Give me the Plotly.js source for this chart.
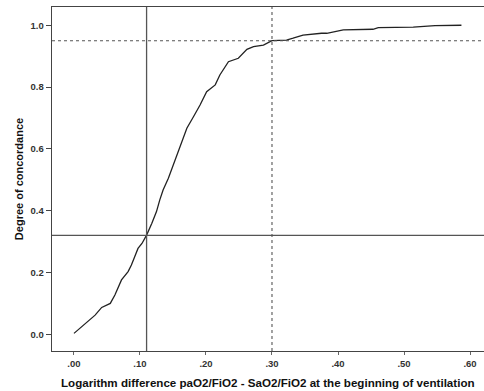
<!DOCTYPE html>
<html>
<head>
<meta charset="utf-8">
<script src="https://cdn.plot.ly/plotly-3.0.1.min.js"></script>
<style>html,body{margin:0;padding:0;background:#fff;}#chart{width:484px;height:391px;}</style>
</head>
<body>
<div id="chart"></div>
<script>
// Curve: logarithm difference vs degree of concordance
const logDiff = [0.000, 0.009, 0.020, 0.032, 0.042, 0.055, 0.062, 0.067, 0.072, 0.082,
                 0.087, 0.092, 0.097, 0.103, 0.110, 0.118, 0.125, 0.130, 0.135, 0.143,
                 0.153, 0.163, 0.171, 0.181, 0.191, 0.201, 0.214, 0.221, 0.234, 0.249,
                 0.262, 0.272, 0.287, 0.300, 0.322, 0.332, 0.347, 0.375, 0.383, 0.408,
                 0.453, 0.461, 0.514, 0.547, 0.587];
const concordance = [0.003, 0.019, 0.038, 0.062, 0.087, 0.100, 0.127, 0.154, 0.176, 0.203,
                     0.224, 0.251, 0.278, 0.294, 0.321, 0.359, 0.397, 0.435, 0.467, 0.505,
                     0.564, 0.618, 0.667, 0.704, 0.742, 0.785, 0.807, 0.839, 0.882, 0.893,
                     0.922, 0.931, 0.936, 0.950, 0.952, 0.958, 0.968, 0.974, 0.974, 0.985,
                     0.987, 0.992, 0.994, 0.999, 1.000];
// Reference lines
const solidRefX = [0.11];
const solidRefY = [0.32];
const dashRefX = [0.30];
const dashRefY = [0.95];
// Tick labels and titles
const xTickVals = [0, 0.1, 0.2, 0.3, 0.4, 0.5, 0.6];
const xTickText = ['.00', '.10', '.20', '.30', '.40', '.50', '.60'];
const yTickVals = [0, 0.2, 0.4, 0.6, 0.8, 1.0];
const yTickText = ['0.0', '0.2', '0.4', '0.6', '0.8', '1.0'];
const xTitle = 'Logarithm difference paO2/FiO2 - SaO2/FiO2 at the beginning of ventilation';
const yTitle = 'Degree of concordance';

const shapes = [];
solidRefX.forEach(v => shapes.push({type:'line', xref:'x', yref:'paper', x0:v, x1:v, y0:0, y1:1, line:{color:'#555', width:1.3}}));
solidRefY.forEach(v => shapes.push({type:'line', xref:'paper', yref:'y', x0:0, x1:1, y0:v, y1:v, line:{color:'#555', width:1.3}}));
dashRefX.forEach(v => shapes.push({type:'line', xref:'x', yref:'paper', x0:v, x1:v, y0:0, y1:1, line:{color:'#555', width:1.1, dash:'dot'}}));
dashRefY.forEach(v => shapes.push({type:'line', xref:'paper', yref:'y', x0:0, x1:1, y0:v, y1:v, line:{color:'#555', width:1.1, dash:'dot'}}));

const trace = {
  x: logDiff, y: concordance, type: 'scatter', mode: 'lines',
  line: {color: '#222', width: 1.3, shape: 'linear'},
  hoverinfo: 'none', showlegend: false
};

const layout = {
  width: 484, height: 391,
  margin: {l: 52, r: 0, t: 7, b: 40},
  paper_bgcolor: '#fff', plot_bgcolor: '#fff',
  font: {family: 'Liberation Sans, Arial, sans-serif', color: '#222'},
  xaxis: {
    range: [-0.0333, 0.6212], tickvals: xTickVals, ticktext: xTickText,
    showgrid: false, zeroline: false, showline: true, linecolor: '#444', linewidth: 1.3,
    mirror: true, ticks: 'outside', ticklen: 3, tickcolor: '#666',
    tickfont: {size: 9.5, color: '#333', weight: 'bold'}
  },
  yaxis: {
    range: [-0.054, 1.059], tickvals: yTickVals, ticktext: yTickText,
    showgrid: false, zeroline: false, showline: true, linecolor: '#444', linewidth: 1.3,
    ticks: 'outside', ticklen: 5, tickcolor: '#444',
    tickfont: {size: 9.5, color: '#333', weight: 'bold'},
    title: {text: yTitle, font: {size: 11, color: '#111', weight: 'bold'}, standoff: 4}
  },
  annotations: [{
    text: xTitle, xref: 'paper', yref: 'paper', x: 0.016, y: -0.092,
    xanchor: 'left', yanchor: 'middle', showarrow: false,
    font: {size: 11.6, color: '#111', weight: 'bold'}
  }],
  shapes: shapes
};

Plotly.newPlot('chart', [trace], layout, {displayModeBar: false, staticPlot: true});
</script>
</body>
</html>
